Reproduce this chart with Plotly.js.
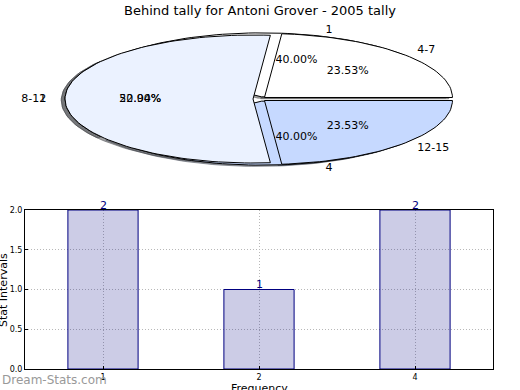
<!DOCTYPE html>
<html>
<head>
<meta charset="utf-8">
<script src="https://cdn.plot.ly/plotly-3.0.1.min.js"></script>
<style>html,body{margin:0;padding:0;background:#fff;}#chart{width:520px;height:390px;}</style>
</head>
<body>
<div id="chart"></div>
<script>
// ---- data ----
const pieALabels = ['1', '2', '4'];
const pieAValues = [2, 1, 2];
const pieBLabels = ['4-7', '8-11', '12-15'];
const pieBValues = [4, 9, 4];
const wedgeColors = ['#ffffff', '#ebf2ff', '#c6d9ff'];
const barCategories = ['1', '2', '4'];
const barValues = [2, 1, 2];
const yTickVals = [0, 0.5, 1, 1.5, 2];
const yTickText = ['0.0', '0.5', '1.0', '1.5', '2.0'];
const titleText = 'Behind tally for Antoni Grover - 2005 tally';
const xTitle = 'Frequency';
const yTitle = 'Stat Intervals';

// ---- pie geometry (matplotlib-like) ----
const EXPLODE = 0.035, LABEL_DIST = 1.1, PCT_DIST = 0.6, SH_OFF = -0.02;
const FONT = 'DejaVu Sans, sans-serif';

function wedges(values) {
  const total = values.reduce((a, b) => a + b, 0);
  let start = 0;
  return values.map(v => {
    const span = 360 * v / total;
    const w = {t1: start, t2: start + span, mid: start + span / 2, pct: 100 * v / total};
    start += span;
    return w;
  });
}
function wedgePath(w, dx, dy) {
  const m = w.mid * Math.PI / 180;
  const ox = EXPLODE * Math.cos(m) + dx, oy = EXPLODE * Math.sin(m) + dy;
  const xs = [ox], ys = [oy];
  const n = Math.max(8, Math.ceil((w.t2 - w.t1) / 2));
  for (let i = 0; i <= n; i++) {
    const a = (w.t1 + (w.t2 - w.t1) * i / n) * Math.PI / 180;
    xs.push(ox + Math.cos(a));
    ys.push(oy + Math.sin(a));
  }
  xs.push(ox); ys.push(oy);
  return {xs, ys};
}
function shade(hex) {
  const r = parseInt(hex.slice(1, 3), 16), g = parseInt(hex.slice(3, 5), 16), b = parseInt(hex.slice(5, 7), 16);
  return `rgba(${Math.round(r * 0.3)},${Math.round(g * 0.3)},${Math.round(b * 0.3)},0.5)`;
}

const pies = [
  {labels: pieALabels, w: wedges(pieAValues)},
  {labels: pieBLabels, w: wedges(pieBValues)}
];

const traces = [];
// shadows first
pies.forEach(p => p.w.forEach((w, i) => {
  const path = wedgePath(w, SH_OFF, SH_OFF);
  traces.push({type: 'scatter', mode: 'lines', x: path.xs, y: path.ys, fill: 'toself',
    fillcolor: shade(wedgeColors[i]), line: {color: shade(wedgeColors[i]), width: 1},
    xaxis: 'x2', yaxis: 'y2', hoverinfo: 'skip', showlegend: false});
}));
// wedges
pies.forEach(p => p.w.forEach((w, i) => {
  const path = wedgePath(w, 0, 0);
  traces.push({type: 'scatter', mode: 'lines', x: path.xs, y: path.ys, fill: 'toself',
    fillcolor: wedgeColors[i], line: {color: '#000000', width: 1},
    xaxis: 'x2', yaxis: 'y2', hoverinfo: 'skip', showlegend: false});
}));
// labels and percentages
pies.forEach(p => {
  const lx = [], ly = [], lt = [], lp = [], px = [], py = [], pt = [];
  p.w.forEach((w, i) => {
    const m = w.mid * Math.PI / 180;
    const ox = EXPLODE * Math.cos(m), oy = EXPLODE * Math.sin(m);
    const x = ox + LABEL_DIST * Math.cos(m), y = oy + LABEL_DIST * Math.sin(m);
    lx.push(x); ly.push(y); lt.push(p.labels[i]);
    lp.push(x > 0 ? 'middle right' : 'middle left');
    px.push(ox + PCT_DIST * Math.cos(m)); py.push(oy + PCT_DIST * Math.sin(m));
    pt.push(w.pct.toFixed(2) + '%');
  });
  traces.push({type: 'scatter', mode: 'text', x: lx, y: ly, text: lt, textposition: lp,
    textfont: {family: FONT, size: 11, color: '#000'}, xaxis: 'x2', yaxis: 'y2',
    hoverinfo: 'skip', showlegend: false, cliponaxis: false});
  traces.push({type: 'scatter', mode: 'text', x: px, y: py, text: pt, textposition: 'middle center',
    textfont: {family: FONT, size: 11, color: '#000'}, xaxis: 'x2', yaxis: 'y2',
    hoverinfo: 'skip', showlegend: false, cliponaxis: false});
});

// bar chart (translucent navy fill, solid navy edge)
traces.push({type: 'bar', x: barCategories, y: barValues, width: 0.45,
  marker: {color: 'rgba(0,0,128,0.2)', line: {color: '#000080', width: 1}},
  xaxis: 'x', yaxis: 'y', hoverinfo: 'skip', showlegend: false});

// value labels on bars (x given as category index)
const annotations = barCategories.map((c, i) => ({
  text: String(barValues[i]), xref: 'x', yref: 'y', x: i, y: barValues[i],
  xanchor: 'center', yanchor: 'middle', yshift: 5, showarrow: false,
  font: {family: FONT, size: 11, color: '#000080'}
}));
annotations.push({text: yTitle, xref: 'paper', yref: 'paper', x: 3 / 520, y: 100 / 390,
  xanchor: 'center', yanchor: 'middle', textangle: -90, showarrow: false,
  font: {family: FONT, size: 11, color: '#000'}});
annotations.push({text: xTitle, xref: 'paper', yref: 'paper', x: 259 / 520, y: 2 / 390,
  xanchor: 'center', yanchor: 'middle', showarrow: false,
  font: {family: FONT, size: 11, color: '#000'}});
annotations.push({text: 'Dream-Stats.com', xref: 'paper', yref: 'paper', x: 0, y: 10 / 390,
  xanchor: 'left', yanchor: 'middle', showarrow: false,
  font: {family: FONT, size: 12, color: '#999999'}});

const GRID = {showgrid: true, gridcolor: '#b8b8b8', gridwidth: 1, griddash: '1px,2px'};

// pie axes: 1 radius -> 188px horizontally, 64px vertically
const CX = 259.6, CY = 99, RX = 188, RY = 64;
const layout = {
  width: 520, height: 390,
  margin: {l: 0, r: 0, t: 0, b: 0},
  paper_bgcolor: '#fff', plot_bgcolor: 'rgba(0,0,0,0)',
  font: {family: FONT, color: '#000'},
  title: {text: titleText, x: 0.5, xanchor: 'center', y: 1 - 10 / 390, yanchor: 'middle',
    font: {family: FONT, size: 13, color: '#000'}},
  xaxis2: {domain: [0, 1], range: [-CX / RX, (520 - CX) / RX], visible: false, fixedrange: true, anchor: 'y2'},
  yaxis2: {domain: [0.5, 1], range: [(CY - 195) / RY, CY / RY], visible: false, fixedrange: true, anchor: 'x2'},
  xaxis: Object.assign({domain: [25 / 520, 493 / 520], anchor: 'y', type: 'category', range: [-0.5, 2.5],
    showline: true, mirror: true, linecolor: '#000', linewidth: 1, zeroline: false,
    ticks: 'inside', ticklen: 3, tickcolor: '#000',
    tickfont: {family: FONT, size: 8, color: '#000'}}, GRID),
  yaxis: Object.assign({domain: [21 / 390, 180 / 390], anchor: 'x', range: [0, 2],
    tickvals: yTickVals, ticktext: yTickText,
    showline: true, mirror: true, linecolor: '#000', linewidth: 1, zeroline: false,
    ticks: 'inside', ticklen: 3, tickcolor: '#000',
    tickfont: {family: FONT, size: 8, color: '#000'}}, GRID),
  annotations: annotations
};

Plotly.newPlot('chart', traces, layout, {staticPlot: true, displayModeBar: false});
</script>
</body>
</html>
